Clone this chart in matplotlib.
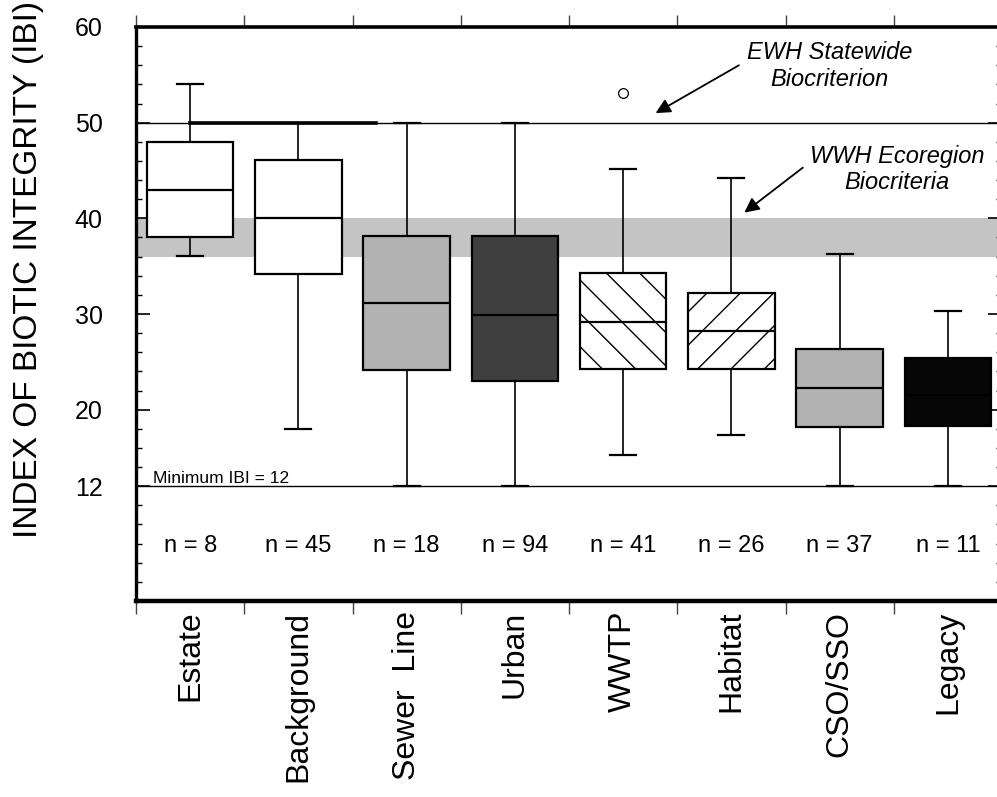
import matplotlib
matplotlib.use('Agg')
import matplotlib.pyplot as plt
from matplotlib.ticker import FixedLocator, MultipleLocator

plt.rcParams['font.family'] = ['Liberation Sans', 'DejaVu Sans']
plt.rcParams['hatch.linewidth'] = 1.0

# data
categories = ['Estate', 'Background', 'Sewer  Line', 'Urban', 'WWTP', 'Habitat', 'CSO/SSO', 'Legacy']
q1 = [38, 34.2, 24.1, 23.0, 24.2, 24.2, 18.2, 18.3]
med = [43, 40, 31.1, 29.9, 29.2, 28.2, 22.3, 21.5]
q3 = [48, 46.1, 38.2, 38.2, 34.3, 32.2, 26.3, 25.4]
whislo = [36.1, 18, 12, 12, 15.3, 17.3, 12, 12]
whishi = [54, 50, 50, 50, 45.2, 44.2, 36.3, 30.3]
fliers = [[], [], [], [], [53.1], [], [], []]
n_counts = [8, 45, 18, 94, 41, 26, 37, 11]

ewh_level = 50          # EWH statewide biocriterion
wwh_band = (36, 40)     # WWH ecoregion biocriteria range
min_ibi = 12

ytick_vals = [12, 20, 30, 40, 50, 60]

face_colors = ['white', 'white', '#b2b2b2', '#3f3f3f', 'white', 'white', '#b2b2b2', '#060606']
hatches = [None, None, None, None, '\\', '/', None, None]

fig = plt.figure(figsize=(9.97, 7.97), dpi=100)
ax = fig.add_axes([136 / 997, 196 / 797, 866 / 997, 574 / 797])

# grey band for WWH ecoregion
ax.axhspan(wwh_band[0], wwh_band[1], color='#c4c4c4', lw=0, zorder=1)
# reference lines
ax.axhline(ewh_level, color='black', lw=1.0, zorder=1.5)
ax.plot([1.0, 2.72], [ewh_level, ewh_level], color='black', lw=2.6, zorder=1.5)
ax.axhline(min_ibi, color='black', lw=1.0, zorder=1.5)

stats = []
for i in range(len(categories)):
    stats.append({'med': med[i], 'q1': q1[i], 'q3': q3[i],
                  'whislo': whislo[i], 'whishi': whishi[i],
                  'fliers': fliers[i], 'label': categories[i]})

positions = list(range(1, len(categories) + 1))
bp = ax.bxp(stats, positions=positions, widths=0.8, patch_artist=True,
            showfliers=True, capwidths=0.24,
            boxprops=dict(lw=1.6, edgecolor='black'),
            medianprops=dict(color='black', lw=1.6),
            whiskerprops=dict(color='black', lw=1.2),
            capprops=dict(color='black', lw=1.6),
            flierprops=dict(marker='o', markersize=7, markerfacecolor='white',
                            markeredgecolor='black', markeredgewidth=0.9))
for patch, fc, h in zip(bp['boxes'], face_colors, hatches):
    patch.set_facecolor(fc)
    patch.set_zorder(2)
    if h:
        patch.set_hatch(h)
for k in ['whiskers', 'caps', 'medians']:
    for line in bp[k]:
        line.set_zorder(2.5)

# sample sizes
for pos, n in zip(positions, n_counts):
    ax.text(pos, 5.1, 'n = %d' % n, ha='center', va='baseline', fontsize=17)

ax.text(0.66, 12.35, 'Minimum IBI = 12', fontsize=12.5, va='baseline', ha='left')

# criteria annotations
ax.text(6.91, 58.5, 'EWH Statewide\nBiocriterion', style='italic', fontsize=17,
        ha='center', va='top', linespacing=1.2)
ax.annotate('', xy=(5.30, 51.0), xytext=(6.07, 56.0),
            arrowprops=dict(arrowstyle='-|>', color='black', lw=1.3,
                            mutation_scale=22, shrinkA=0, shrinkB=0))
ax.text(7.53, 47.7, 'WWH Ecoregion\nBiocriteria', style='italic', fontsize=17,
        ha='center', va='top', linespacing=1.2)
ax.annotate('', xy=(6.12, 40.6), xytext=(6.66, 45.3),
            arrowprops=dict(arrowstyle='-|>', color='black', lw=1.3,
                            mutation_scale=22, shrinkA=0, shrinkB=0))

ax.set_xlim(0.5, len(categories) + 0.5)
ax.set_ylim(0, 60)

# y axis: labels on the left, inward ticks on both sides
ax.yaxis.set_major_locator(FixedLocator(ytick_vals))
ax.yaxis.set_minor_locator(MultipleLocator(2))
ax.set_yticklabels([str(v) for v in ytick_vals])
ax.tick_params(axis='y', which='major', direction='in', length=10, width=1.2,
               left=True, right=True, labelsize=18, pad=24)
ax.tick_params(axis='y', which='minor', direction='in', length=4, width=1.0,
               left=True, right=True)

# x axis: category names, boundary ticks top and bottom
ax.set_xticks(positions)
ax.set_xticklabels(categories, rotation=90, fontsize=23)
ax.xaxis.set_minor_locator(FixedLocator([p + 0.5 for p in range(len(categories) + 1)]))
ax.tick_params(axis='x', which='major', length=0, pad=7)
ax.tick_params(axis='x', which='minor', direction='out', length=9, width=1.0,
               top=True, bottom=True, color='#444444')

ax.spines['left'].set_linewidth(2.4)
ax.spines['top'].set_linewidth(2.6)
ax.spines['bottom'].set_linewidth(3.2)
ax.spines['right'].set_linewidth(2.4)

fig.text(29 / 997, 0.662, 'INDEX OF BIOTIC INTEGRITY (IBI)', rotation=90,
         ha='center', va='center', fontsize=24)

fig.savefig('out.png', dpi=100)
